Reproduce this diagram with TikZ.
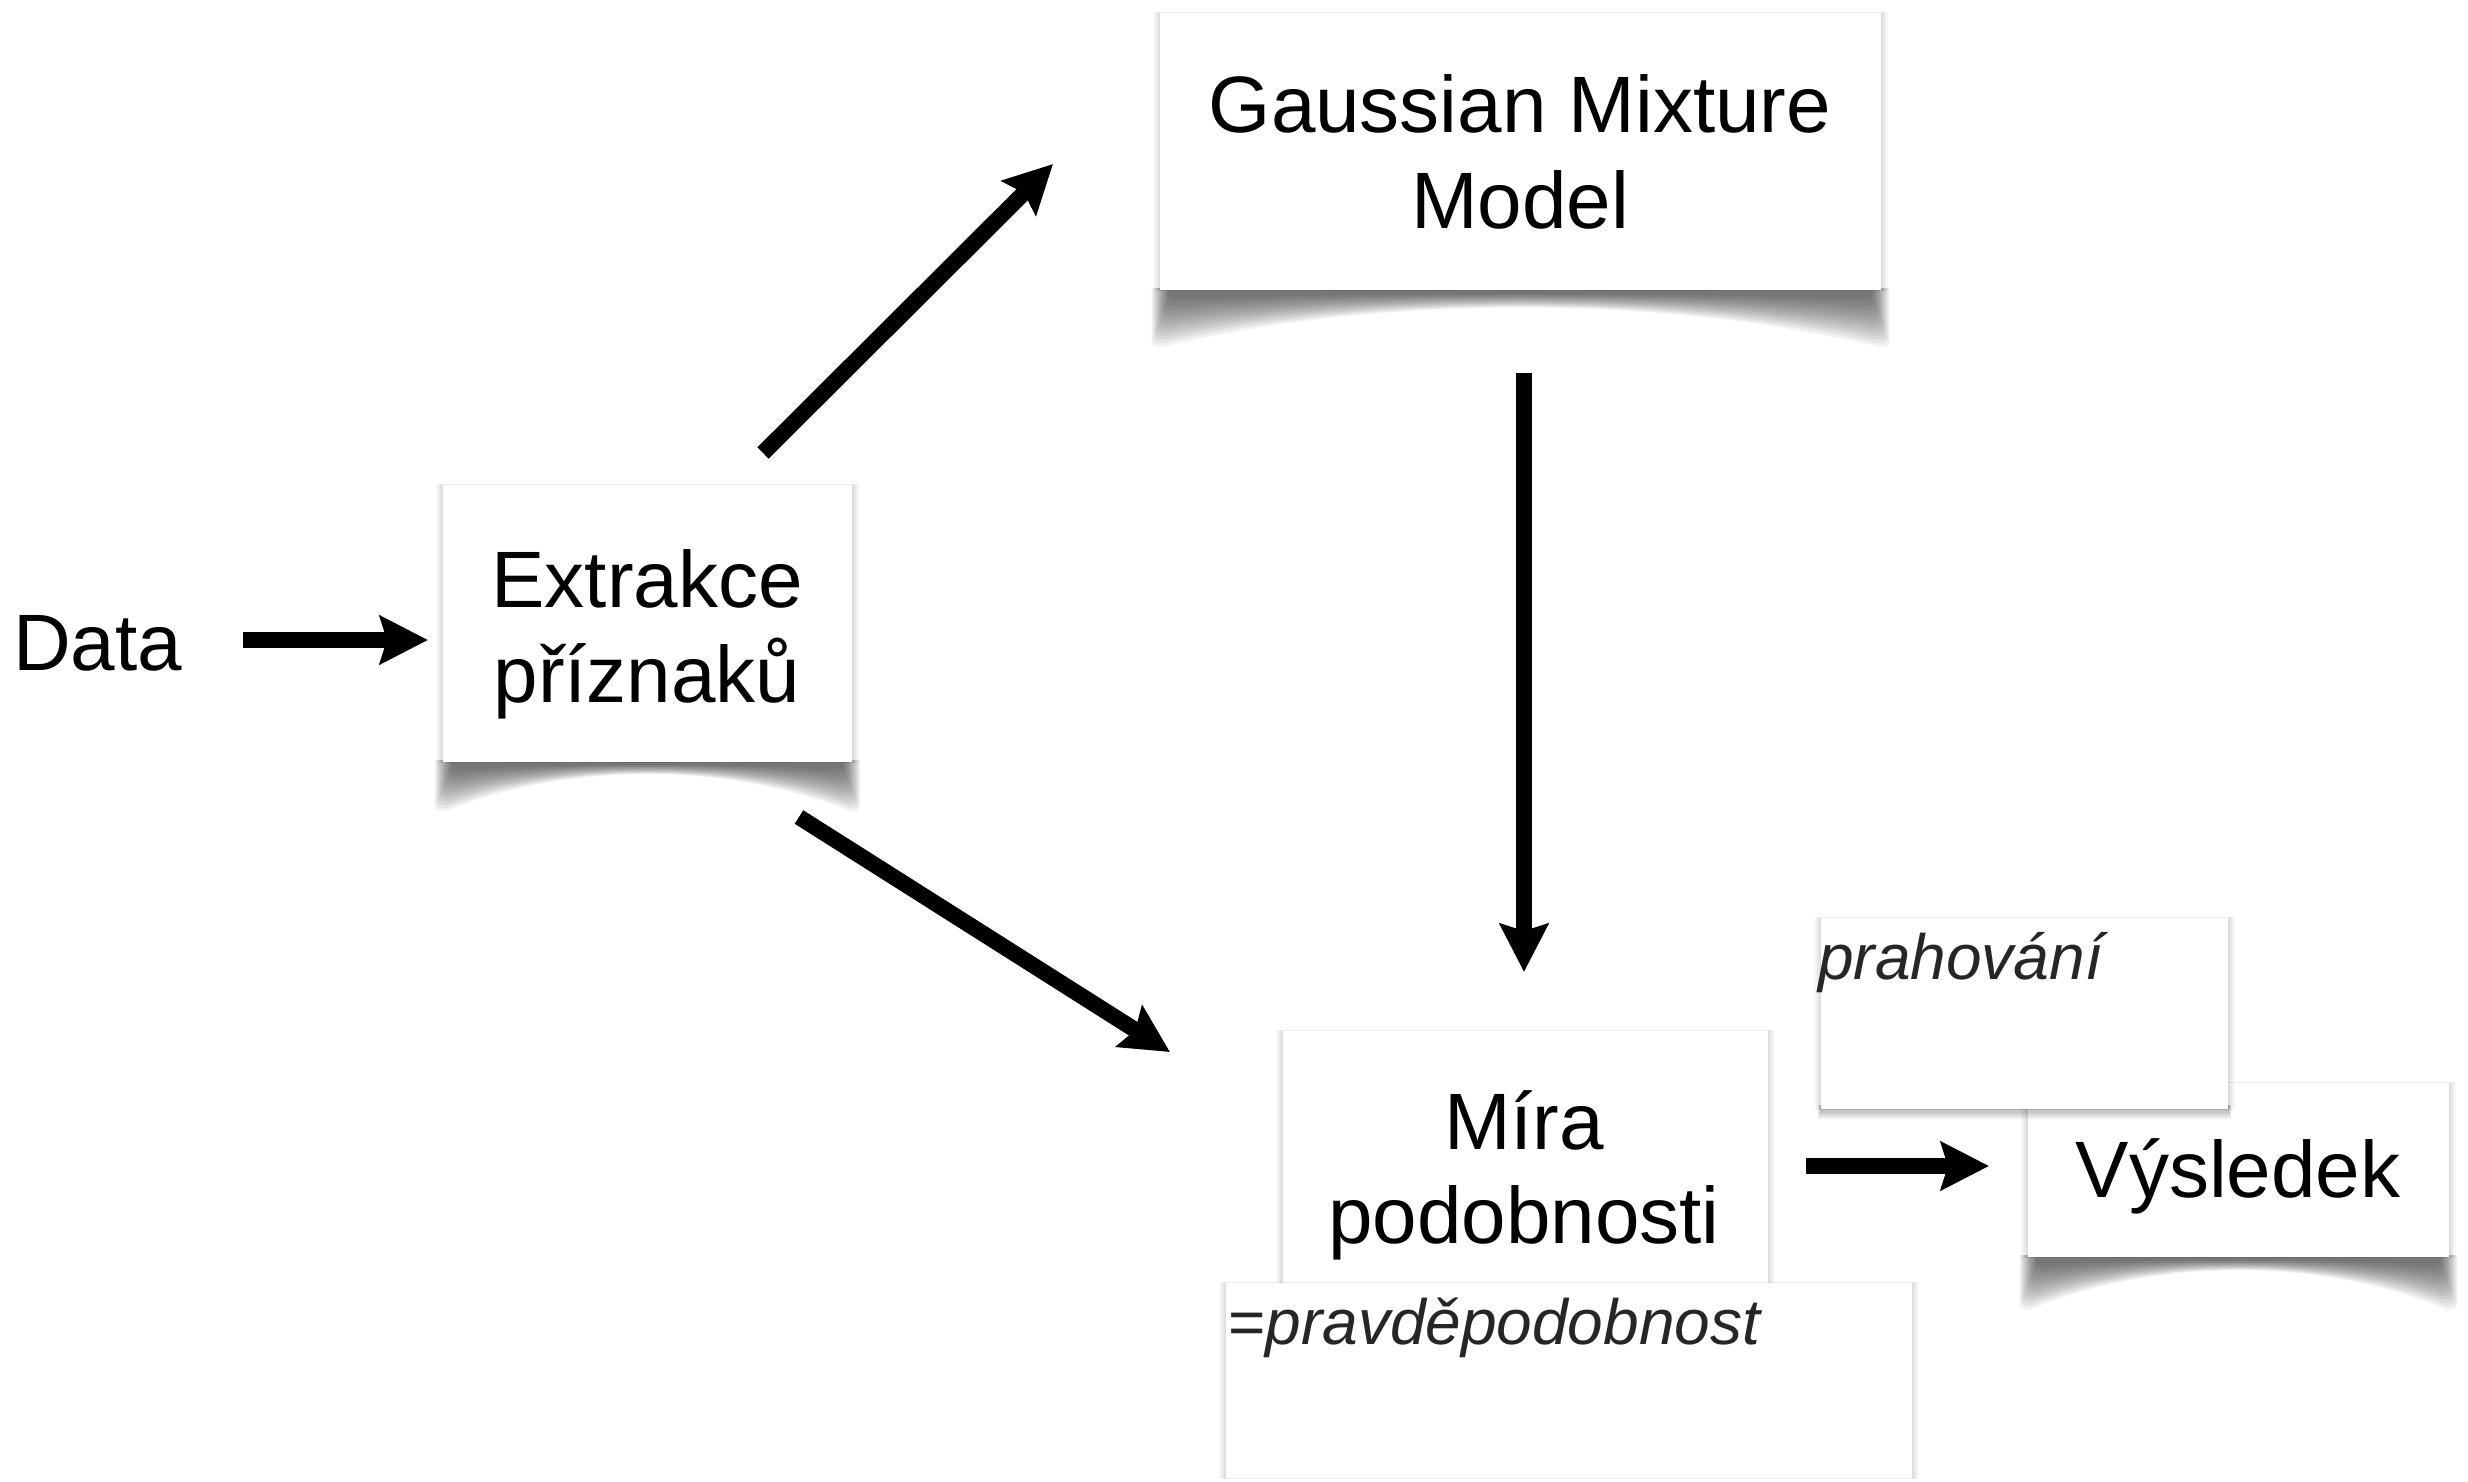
\documentclass[tikz,border=0pt]{standalone}
\usepackage{fontspec}
\setmainfont{Liberation Sans}
\usetikzlibrary{arrows.meta}
\definecolor{txtgray}{RGB}{38,38,38}
\newcommand\mycurl[5]{% L R B E M
  \foreach \k in {1,...,14}{%
    \pgfmathsetmacro\ee{#4*(0.1+1.0*\k/14)}%
    \pgfmathsetmacro\mm{#5*(0.2+0.9*\k/14)}%
    \pgfmathsetmacro\cc{(4*\mm-\ee)/3}%
    \pgfmathsetmacro\ss{10-1.3*\k}%
    \fill[black,opacity=0.05] (#1+\ss,#3-2) -- (#1+\ss,#3+\ee-8) .. controls (#1+\ss,#3+\ee-1) .. (#1+\ss+10,#3+\ee) .. controls (#1+0.3*#2-0.3*#1,#3+\cc) and (#2-0.3*#2+0.3*#1,#3+\cc) .. (#2-\ss-10,#3+\ee) .. controls (#2-\ss,#3+\ee-1) .. (#2-\ss,#3+\ee-8) -- (#2-\ss,#3-2) -- cycle;
  }}
\newcommand\myglow[4]{% L T R B
  \foreach \k in {1,...,7}{%
    \fill[black,opacity=0.02] (#1-\k,#2-0.15*\k) rectangle (#3+\k,#4+0.15*\k);
  }}
\tikzset{
  card/.style={fill=white, draw=none, inner sep=0pt, outer sep=0pt},
  big/.style={inner sep=0pt, font=\fontsize{80}{96}\selectfont},
  note/.style={inner sep=0pt, text=txtgray, font=\fontsize{64}{76}\selectfont\itshape},
  flow/.style={line width=16pt, -{Stealth[length=48pt,width=48pt,inset=7pt]}},
}
\begin{document}
\begin{tikzpicture}[x=1pt,y=-1pt]
\fill[white] (0,0) rectangle (2468,1482);
\useasboundingbox (0,0) rectangle (2468,1482);

% Extrakce box
\mycurl{443}{852}{762}{45}{11}
\myglow{443}{485}{852}{762}
\node[card, minimum width=409pt, minimum height=277pt] (ext) at (647.5,623.5) {};

% GMM box
\mycurl{1160}{1881}{290}{52}{16}
\myglow{1160}{13}{1881}{290}
\node[card, minimum width=721pt, minimum height=277pt] (gmm) at (1520.5,151.5) {};

% Mira box and probability box
\myglow{1283}{1031}{1768}{1300}
\node[card, minimum width=485pt, minimum height=269pt] (mira) at (1525.5,1165.5) {};
\myglow{1226}{1283}{1912}{1478}
\node[card, minimum width=686pt, minimum height=195pt] (prav) at (1569,1380.5) {};

% Vysledek box
\mycurl{2028}{2449}{1257}{48}{12}
\myglow{2028}{1083}{2449}{1257}
\node[card, minimum width=421pt, minimum height=174pt] (vys) at (2238.5,1170) {};

% prahovani box
\foreach \k in {1,...,6}{\fill[black,opacity=0.06] (1821-0.5*\k,1105) rectangle (2228+0.5*\k,1106+2.2*\k);}
\myglow{1821}{918}{2228}{1109}
\node[card, minimum width=407pt, minimum height=191pt] (prah) at (2024.5,1013.5) {};

% texts
\node[big, anchor=base west] (data) at (13,670) {Data};
\node[big, anchor=base] (ext1) at (647,607) {Extrakce};
\node[big, anchor=base] (ext2) at (647,702) {příznaků};
\node[big, anchor=base] (gmm1) at (1520,133) {Gaussian Mixture};
\node[big, anchor=base] (gmm2) at (1520,229) {Model};
\node[big, anchor=base] (mira1) at (1524,1149) {Míra};
\node[big, anchor=base] (mira2) at (1524,1243) {podobnosti};
\node[big, anchor=base] (vys1) at (2238,1197) {Výsledek};
\node[note, anchor=base west] (prah1) at (1818,979) {prahování};
\node[note, anchor=base west] (prav1) at (1228,1344) {{\upshape=}pravděpodobnost};

% connectors
\coordinate (d2e-s) at (243,640);   \coordinate (d2e-t) at (428,640);
\coordinate (e2g-s) at (763,453);   \coordinate (e2g-t) at (1053,164);
\coordinate (e2m-s) at (799,817);   \coordinate (e2m-t) at (1170,1052);
\coordinate (g2m-s) at (1524,373);  \coordinate (g2m-t) at (1524,972);
\coordinate (m2v-s) at (1806,1166); \coordinate (m2v-t) at (1989,1166);
\draw[flow] (d2e-s) -- (d2e-t);
\draw[flow] (e2g-s) -- (e2g-t);
\draw[flow] (e2m-s) -- (e2m-t);
\draw[flow] (g2m-s) -- (g2m-t);
\draw[flow] (m2v-s) -- (m2v-t);
\end{tikzpicture}
\end{document}
